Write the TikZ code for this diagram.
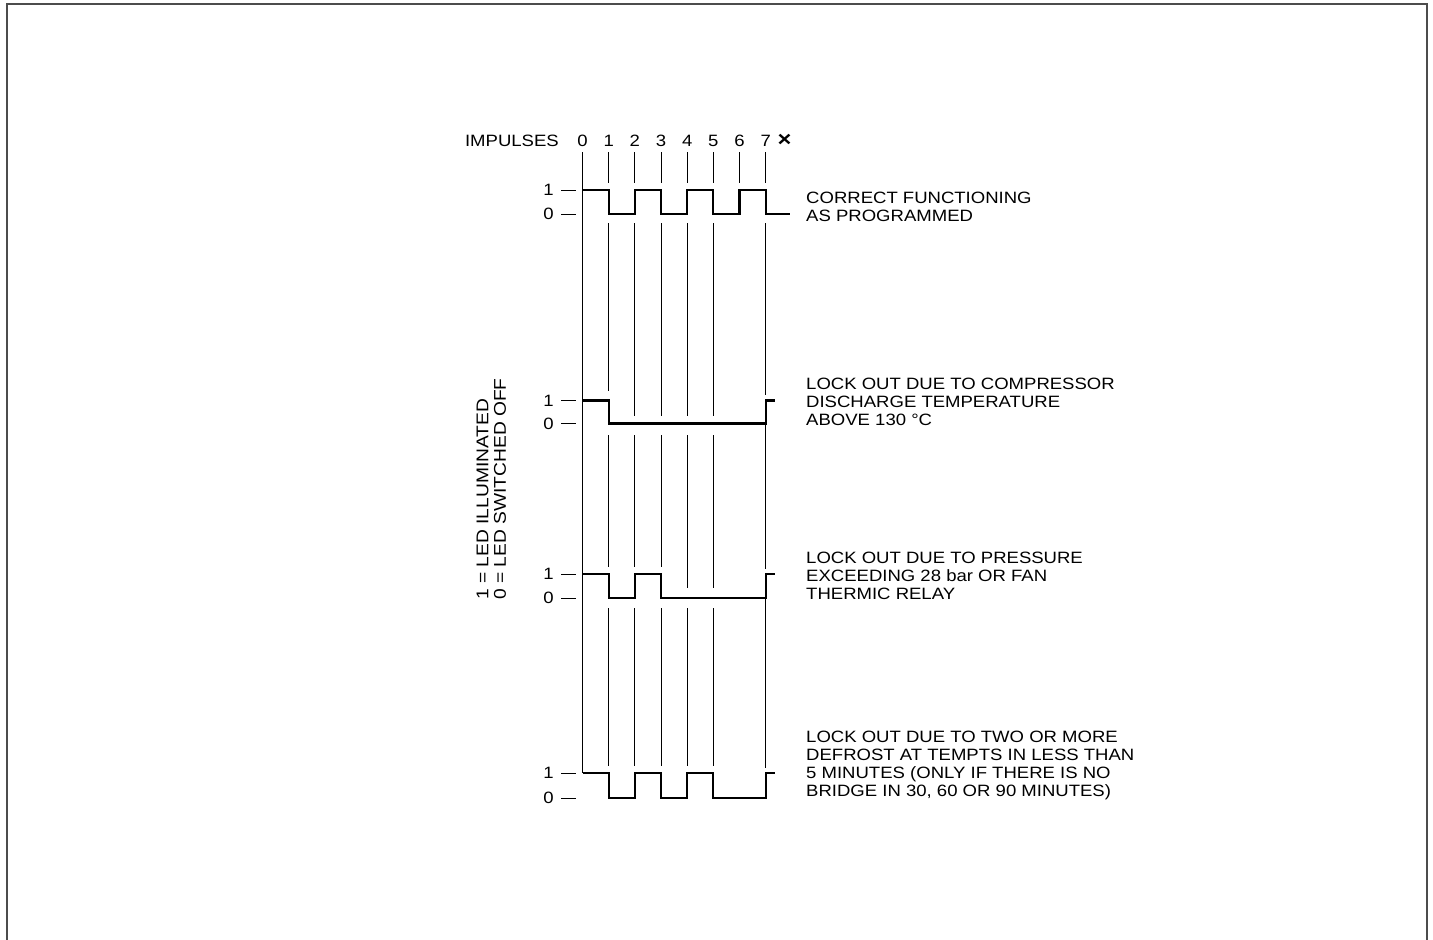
\documentclass[tikz,border=0pt]{standalone}
\usepackage{fontspec}
\setmainfont{Liberation Sans}[FakeStretch=1.13]
\begin{document}
\begin{tikzpicture}[x=1pt,y=-1pt,
  grid/.style={line width=0.9pt},
  trace/.style={line width=2.2pt, line join=miter},
  frame/.style={line width=2pt, draw=black!70},
  lbl/.style={font=\fontsize{16.4}{18}\selectfont, inner sep=0pt},
  desc/.style={lbl, align=left, anchor=north west}]
\useasboundingbox (0,0) rectangle (1433,940);
% frame
\draw[frame] (7,940) -- (7,4) -- (1427,4) -- (1427,940);
% header
\node[lbl, anchor=base east] (imp) at (559,146.5) {IMPULSES};
\foreach \i/\x in {0/582.5,1/608.67,2/634.84,3/661,4/687.2,5/713.35,6/739.5,7/765.7}
  \node[lbl, anchor=base] (h\i) at (\x,146.5) {\i};
\node[lbl, anchor=base, font=\fontsize{21}{21}\selectfont\bfseries] (hx) at (784.5,146.5) {×};
% grid lines
\draw[grid] (582.5,152) -- (582.5,773.3);
\foreach \x in {608.67,634.84,661,687.2,713.35,739.5,765.7}
  \draw[grid] (\x,152) -- (\x,183);
\foreach \x/\a/\b in {608.67/391/567, 634.84/416/567, 661/416/567, 687.2/416/588, 713.35/416/588}{
  \draw[grid] (\x,223) -- (\x,\a);
  \draw[grid] (\x,435) -- (\x,\b);
  \draw[grid] (\x,608) -- (\x,766);
}
\draw[grid] (765.7,223) -- (765.7,395);
\draw[grid] (765.7,423.5) -- (765.7,569);
\draw[grid] (765.7,598.3) -- (765.7,768);
% level ticks
\foreach \y/\t in {190/1,214/0,400.5/1,423.5/0,574/1,598.3/0,773.3/1,798.3/0}{
  \node[lbl, anchor=east] at (554,\y) {\t};
  \draw[grid] (561,\y) -- (576,\y);
}
% traces
\draw[trace] (582.5,190) -- (608.67,190) -- (608.67,214) -- (634.84,214) -- (634.84,190) -- (661,190) -- (661,214) -- (687.2,214) -- (687.2,190) -- (713.35,190) -- (713.35,214) -- (739.5,214) -- (739.5,190) -- (765.7,190) -- (765.7,214) -- (790,214);
\draw[trace] (582.5,400.5) -- (608.67,400.5) -- (608.67,423.5) -- (765.7,423.5) -- (765.7,400.5) -- (775,400.5);
\draw[trace] (582.5,574) -- (608.67,574) -- (608.67,598.3) -- (634.84,598.3) -- (634.84,574) -- (661,574) -- (661,598.3) -- (765.7,598.3) -- (765.7,574) -- (775,574);
\draw[trace] (582.5,773.3) -- (608.67,773.3) -- (608.67,798.3) -- (634.84,798.3) -- (634.84,773.3) -- (661,773.3) -- (661,798.3) -- (687.2,798.3) -- (687.2,773.3) -- (713.35,773.3) -- (713.35,798.3) -- (765.7,798.3) -- (765.7,773.3) -- (775,773.3);
% descriptions
\node[desc] (d1) at (806,191.8) {CORRECT FUNCTIONING\\AS PROGRAMMED};
\node[desc] (d2) at (806,378) {LOCK OUT DUE TO COMPRESSOR\\DISCHARGE TEMPERATURE\\ABOVE 130 °C};
\node[desc] (d3) at (806,552) {LOCK OUT DUE TO PRESSURE\\EXCEEDING 28 bar OR FAN\\THERMIC RELAY};
\node[desc] (d4) at (806,731) {LOCK OUT DUE TO TWO OR MORE\\DEFROST AT TEMPTS IN LESS THAN\\5 MINUTES (ONLY IF THERE IS NO\\BRIDGE IN 30, 60 OR 90 MINUTES)};
% legend
\node[lbl, rotate=90, anchor=west, font=\fontsize{17}{18}\selectfont] (l1) at (482.5,600) {1 = LED ILLUMINATED};
\node[lbl, rotate=90, anchor=west, font=\fontsize{17}{18}\selectfont] (l0) at (500,600) {0 = LED SWITCHED OFF};
\end{tikzpicture}
\end{document}
